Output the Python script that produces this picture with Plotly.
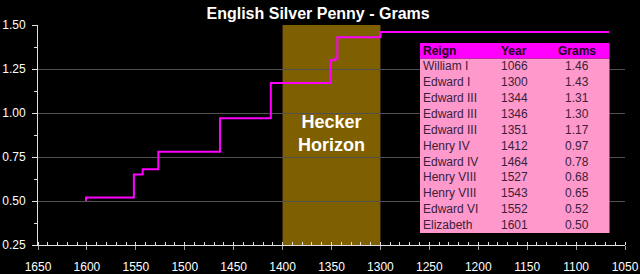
import plotly.graph_objects as go

reign = ["William I", "Edward I", "Edward III", "Edward III", "Edward III", "Henry IV",
         "Edward IV", "Henry VIII", "Henry VIII", "Edward VI", "Elizabeth"]
year = [1066, 1300, 1344, 1346, 1351, 1412, 1464, 1527, 1543, 1552, 1601]
grams = [1.46, 1.43, 1.31, 1.30, 1.17, 0.97, 0.78, 0.68, 0.65, 0.52, 0.50]
horizon = [1300, 1400]
headers = ["Reign", "Year", "Grams"]

FONT = "Arial, 'Liberation Sans', sans-serif"
W, H = 640, 274
ML, MR, MT, MB = 38, 15, 25, 29
pw, ph = W - ML - MR, H - MT - MB

def px_x(p):
    return (p - ML) / pw

def px_y(p):
    return (H - MB - p) / ph

fig = go.Figure()

fig.add_trace(go.Scatter(
    x=year, y=grams, mode="lines", line=dict(color="#FF00FF", width=2, shape="hv"),
    hoverinfo="skip", showlegend=False))

# table geometry (pixels)
TL, TR, TT, HB, TB = 420, 609.5, 43, 58.5, 233
row_h = (TB - HB) / len(reign)
col_x = [px_x(422), px_x(500), px_x(577)]
col_anchor = ["left", "left", "center"]

shapes = [
    dict(type="rect", xref="x", yref="paper", x0=horizon[0], x1=horizon[1], y0=0, y1=1,
         fillcolor="#7F6000", line=dict(width=0), layer="below"),
    dict(type="rect", xref="paper", yref="paper", x0=px_x(TL), x1=px_x(TR),
         y0=px_y(TB), y1=px_y(HB), fillcolor="#FF99CC", line=dict(width=0), layer="above"),
    dict(type="rect", xref="paper", yref="paper", x0=px_x(TL), x1=px_x(TR),
         y0=px_y(HB), y1=px_y(TT), fillcolor="#FF00FF", line=dict(width=0), layer="above"),
]

annotations = [dict(x=sum(horizon) / 2, y=0.886, xref="x", yref="y",
                    text="<b>Hecker<br>Horizon</b>", showarrow=False,
                    font=dict(family=FONT, size=18, color="white"))]

for j, h in enumerate(headers):
    annotations.append(dict(x=col_x[j], y=px_y((TT + HB) / 2), xref="paper", yref="paper",
                            text="<b>%s</b>" % h, showarrow=False, xanchor=col_anchor[j],
                            yanchor="middle", borderpad=0,
                            font=dict(family=FONT, size=12, color="#1a001a")))

cols = [reign, [str(v) for v in year], ["%.2f" % v for v in grams]]
for i in range(len(reign)):
    yc = px_y(HB + row_h * (i + 0.5))
    for j in range(3):
        annotations.append(dict(x=col_x[j], y=yc, xref="paper", yref="paper",
                                text=cols[j][i], showarrow=False, xanchor=col_anchor[j],
                                yanchor="middle", borderpad=0,
                                font=dict(family=FONT, size=12, color="#3a203a")))

fig.update_layout(
    width=W, height=H, margin=dict(l=ML, r=MR, t=MT, b=MB, autoexpand=False),
    paper_bgcolor="black", plot_bgcolor="black",
    font=dict(family=FONT, size=12, color="white"),
    title=dict(text="<b>English Silver Penny - Grams</b>", x=0.497, xanchor="center",
               y=1 - 13 / H, yanchor="middle", yref="container",
               font=dict(family=FONT, size=16, color="white")),
    shapes=shapes,
    annotations=annotations,
    xaxis=dict(range=[1650, 1050], tick0=1050, dtick=50, showgrid=False, zeroline=False,
               automargin=False,
               showline=True, linecolor="#e0e0e0", linewidth=1,
               ticks="outside", ticklen=4, tickcolor="#a0a0a0", ticklabelstandoff=7,
               minor=dict(dtick=10, ticks="inside", ticklen=3, tickcolor="#e0e0e0"),
               tickfont=dict(family=FONT, size=12, color="white")),
    yaxis=dict(range=[0.25, 1.5], tick0=0.25, dtick=0.25, tickformat=".2f",
               automargin=False,
               showgrid=True, gridcolor="#505050", gridwidth=1, zeroline=False,
               showline=True, linecolor="#e0e0e0", linewidth=1,
               ticks="outside", ticklen=5, tickcolor="#e0e0e0", ticklabelstandoff=4,
               minor=dict(dtick=0.125, ticks="outside", ticklen=3, tickcolor="#e0e0e0", showgrid=False),
               tickfont=dict(family=FONT, size=12, color="white")),
)

fig.write_html("out.html")
